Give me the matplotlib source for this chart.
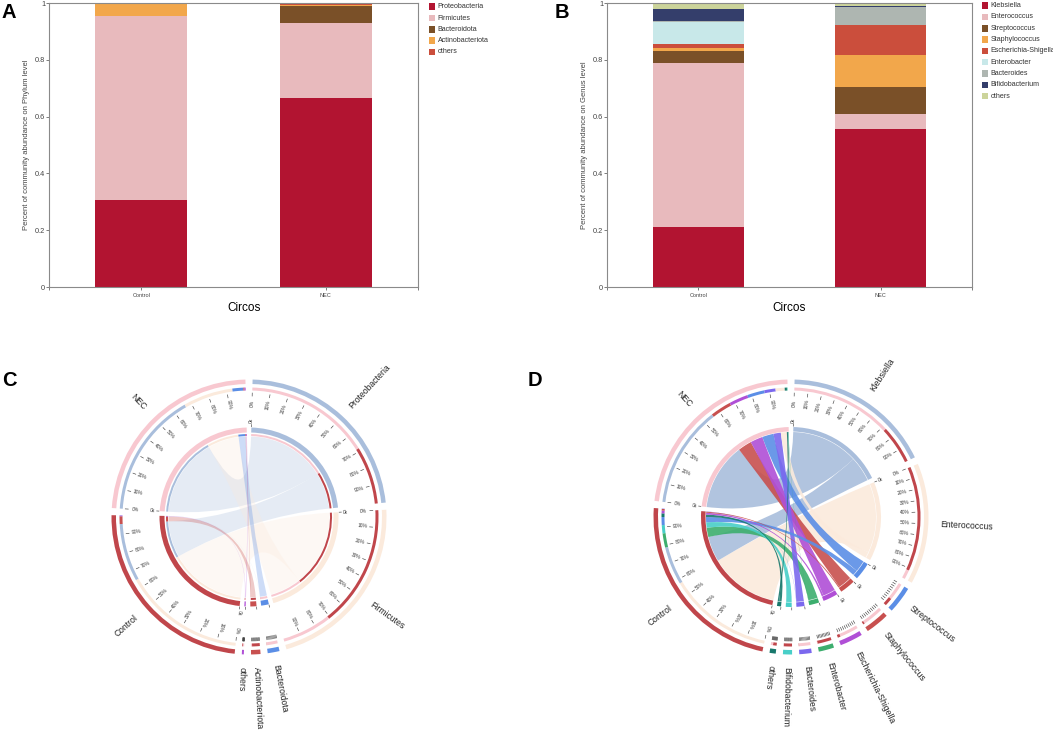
import numpy as np
import matplotlib
matplotlib.use('Agg')
import matplotlib.pyplot as plt
from matplotlib.patches import Wedge, PathPatch, Rectangle
from matplotlib.path import Path

plt.rcParams['font.family'] = ['Liberation Sans', 'DejaVu Sans']

# ---------------- data ----------------
groups = ['Control', 'NEC']
phyla = ['Proteobacteria', 'Firmicutes', 'Bacteroidota', 'Actinobacteriota', 'others']
phylum_control = [0.307, 0.647, 0.001, 0.041, 0.004]
phylum_nec = [0.666, 0.264, 0.058, 0.006, 0.006]

genera = ['Klebsiella', 'Enterococcus', 'Streptococcus', 'Staphylococcus',
          'Escherichia-Shigella', 'Enterobacter', 'Bacteroides', 'Bifidobacterium', 'others']
genus_control = [0.210, 0.577, 0.044, 0.009, 0.015, 0.078, 0.002, 0.045, 0.020]
genus_nec = [0.558, 0.050, 0.095, 0.115, 0.104, 0.002, 0.062, 0.002, 0.012]

y_ticks = [0, 0.2, 0.4, 0.6, 0.8, 1.0]
y_tick_labels = ['0', '0.2', '0.4', '0.6', '0.8', '1']
pct_labels = ['0%', '10%', '20%', '30%', '40%', '50%', '60%', '70%', '80%', '90%']

# ---------------- styles ----------------
bar_colors_phylum = ['#B21431', '#E8BABD', '#7A5028', '#F2A74B', '#CB4E3C']
bar_colors_genus = ['#B21431', '#E8BABD', '#7A5028', '#F2A74B', '#CB4E3C',
                    '#C8E8E9', '#AEB6B1', '#343E6B', '#CCD49B']
group_colors = {'Control': '#C0464B', 'NEC': '#F8C8D0'}
circ_colors_phylum = ['#A9BEDC', '#FBEADC', '#5B8EE6', '#C8504F', '#B04FD6']
circ_colors_genus = ['#A9BEDC', '#FBEADC', '#5B8EE6', '#C8504F', '#B04FD6',
                     '#3DAE6E', '#7B68EE', '#48CFC8', '#18786C']

W, H = 1053, 730
fig = plt.figure(figsize=(W / 100, H / 100), dpi=100)


def fig_rect(x0, y0, x1, y1):
    return [x0 / W, 1 - y1 / H, (x1 - x0) / W, (y1 - y0) / H]


def stacked(ax, names, ctrl, nec, colors, ylabel, xlab_x, ylab_x):
    x = np.arange(len(groups))
    bottom = np.zeros(len(groups))
    for c_v, n_v, col in zip(ctrl, nec, colors):
        vals = np.array([c_v, n_v])
        ax.bar(x, vals, bottom=bottom, width=0.5, color=col, linewidth=0)
        bottom += vals
    ax.set_xlim(-0.5, 1.5)
    ax.set_ylim(0, 1)
    ax.set_xticks(x, groups, fontsize=4)
    ax.set_xticks([-0.5, 1.5], minor=True)
    ax.set_yticks(y_ticks, y_tick_labels, fontsize=5.3)
    for sp in ax.spines.values():
        sp.set_color('#8a8a8a')
        sp.set_linewidth(0.8)
    ax.tick_params(which='both', length=2.2, width=0.6, color='#666', labelcolor='#444')
    ax.tick_params(axis='y', pad=0.6)
    ax.tick_params(axis='x', pad=2.2)
    ax.set_xlabel('Circos', fontsize=8.5)
    ax.xaxis.set_label_coords(xlab_x, -0.052)
    ax.set_ylabel(ylabel, fontsize=5.5, color='#444')
    ax.yaxis.set_label_coords(ylab_x, 0.5)


def legend(x_patch, y0, names, colors):
    for i, (n, c) in enumerate(zip(names, colors)):
        y = y0 + i * 11.3
        fig.add_artist(Rectangle((x_patch / W, 1 - (y + 3.2) / H), 6.4 / W, 6.4 / H,
                                 transform=fig.transFigure, color=c, linewidth=0))
        fig.text((x_patch + 8.5) / W, 1 - y / H, n, fontsize=5.1, va='center',
                 ha='left', color='#333')


axA = fig.add_axes(fig_rect(49, 3, 418, 287))
stacked(axA, phyla, phylum_control, phylum_nec, bar_colors_phylum,
        'Percent of community abundance on Phylum level', 0.528, -0.052)
legend(429, 6.7, phyla, bar_colors_phylum)

axB = fig.add_axes(fig_rect(607, 3, 972, 287))
stacked(axB, genera, genus_control, genus_nec, bar_colors_genus,
        'Percent of community abundance on Genus level', 0.5, -0.053)
legend(982, 5.7, genera, bar_colors_genus)

# ---------------- circos ----------------
axc = fig.add_axes([0, 0, 1, 365 / H])
axc.set_xlim(0, W)
axc.set_ylim(0, 365)
axc.axis('off')


def polar(cx, cy, r, th):
    t = np.deg2rad(th)
    return cx + r * np.cos(t), cy + r * np.sin(t)


def facing(th):
    th = (th + 180) % 360 - 180
    if -120 <= th <= 90:
        return th, 'left'
    return th + 180 if th < 0 else th - 180, 'right'


def ribbon(cx, cy, R, a1, a2, b1, b2):
    verts, codes = [], []
    n1 = max(int(abs(a1 - a2) * 2) + 2, 3)
    for i, th in enumerate(np.linspace(a1, a2, n1)):
        verts.append(polar(cx, cy, R, th))
        codes.append(Path.MOVETO if i == 0 else Path.LINETO)
    verts += [(cx, cy), polar(cx, cy, R, b1)]
    codes += [Path.CURVE3, Path.CURVE3]
    n2 = max(int(abs(b1 - b2) * 2) + 2, 3)
    for th in np.linspace(b1, b2, n2)[1:]:
        verts.append(polar(cx, cy, R, th))
        codes.append(Path.LINETO)
    verts += [(cx, cy), polar(cx, cy, R, a1)]
    codes += [Path.CURVE3, Path.CURVE3]
    return Path(verts, codes)


def draw_circos(ax, cx, cy, taxa, ctrl, nec, taxa_colors, chord_alpha, thin_band):
    sectors = list(taxa) + groups
    colors = dict(zip(taxa, taxa_colors))
    colors.update(group_colors)
    links = []
    for t, cv, nv in zip(taxa, ctrl, nec):
        links.append(('Control', t, cv))
        links.append(('NEC', t, nv))
    totals = {s: sum(v for g, t, v in links if s in (g, t)) for s in sectors}
    gap = 3.0
    unit = (360 - gap * len(sectors)) / sum(totals.values())
    ranges = {}
    cur = 90 - gap / 2
    for s in sectors:
        span = totals[s] * unit
        ranges[s] = (cur, cur - span)
        cur -= span + gap
    pos = {}
    order = {}
    for s in sectors:
        partners = [(t if g == s else g, v) for g, t, v in links if s in (g, t)]
        partners.sort(key=lambda p: -p[1])
        order[s] = partners
        a = ranges[s][0]
        for p, v in partners:
            pos[(s, p)] = (a, a - v * unit)
            a -= v * unit

    if thin_band:
        R_chord, r_in0, r_in1 = 80.5, 84.5, 89.5
    else:
        R_chord, r_in0, r_in1 = 85.0, 85.5, 90.0

    # chords
    for g, t, v in sorted(links, key=lambda l: -l[2]):
        a1, a2 = pos[(g, t)]
        b1, b2 = pos[(t, g)]
        ax.add_patch(PathPatch(ribbon(cx, cy, R_chord, a1, a2, b1, b2),
                               facecolor=colors[t], alpha=chord_alpha,
                               edgecolor='none', zorder=2))

    for s in sectors:
        st, en = ranges[s]
        span = st - en
        col = colors[s]
        # outer ring
        ax.add_patch(Wedge((cx, cy), 137.5, en, st, width=4.5, color=col, lw=0, zorder=3))
        # composition ring + thin inner band
        for p, v in order[s]:
            p1, p2 = pos[(s, p)]
            ax.add_patch(Wedge((cx, cy), 129.5, p2, p1, width=3, color=colors[p],
                               lw=0, zorder=3))
            if thin_band:
                ax.add_patch(Wedge((cx, cy), 83, p2, p1, width=2, color=colors[p],
                                   lw=0, zorder=3))
        # inner ring
        ax.add_patch(Wedge((cx, cy), r_in1, en, st, width=r_in1 - r_in0, color=col,
                           lw=0, zorder=3))
        # percent ticks
        for k, lab in enumerate(pct_labels):
            th = st - k / 10 * span
            x0, y0 = polar(cx, cy, 121, th)
            x1, y1 = polar(cx, cy, 124, th)
            ax.plot([x0, x1], [y0, y1], color='#444', lw=0.45, zorder=4)
            if span > 25:
                rot, _ = facing(th)
                tx, ty = polar(cx, cy, 114, th)
                ax.text(tx, ty, lab, fontsize=3.5, rotation=rot, ha='center',
                        va='center', rotation_mode='anchor', color='#333', zorder=4)
        # inner axis start tick
        x0, y0 = polar(cx, cy, r_in1 + 0.8, st)
        x1, y1 = polar(cx, cy, r_in1 + 3, st)
        ax.plot([x0, x1], [y0, y1], color='#444', lw=0.45, zorder=4)
        if span > 8:
            rot, _ = facing(st)
            tx, ty = polar(cx, cy, r_in1 + 7, st)
            ax.text(tx, ty, '0k', fontsize=3.5, rotation=rot, ha='center', va='center',
                    rotation_mode='anchor', color='#333', zorder=4)
        # sector label
        mid = (st + en) / 2
        rot, ha = facing(mid)
        tx, ty = polar(cx, cy, 150, mid)
        ax.text(tx, ty, s, fontsize=6.2, rotation=rot, ha=ha, va='center',
                rotation_mode='anchor', color='#222', zorder=4)


draw_circos(axc, 249, 730 - 517, phyla, phylum_control, phylum_nec,
            circ_colors_phylum, 0.3, True)
draw_circos(axc, 791, 730 - 517, genera, genus_control, genus_nec,
            circ_colors_genus, 0.9, False)

# panel letters
for lab, x, y in [('A', 1, 12), ('B', 555, 12), ('C', 2, 380), ('D', 528, 380)]:
    fig.text(x / W, 1 - y / H, lab, fontsize=14.5, fontweight='bold', ha='left',
             va='center', color='black')

fig.savefig('out.png', dpi=100)
